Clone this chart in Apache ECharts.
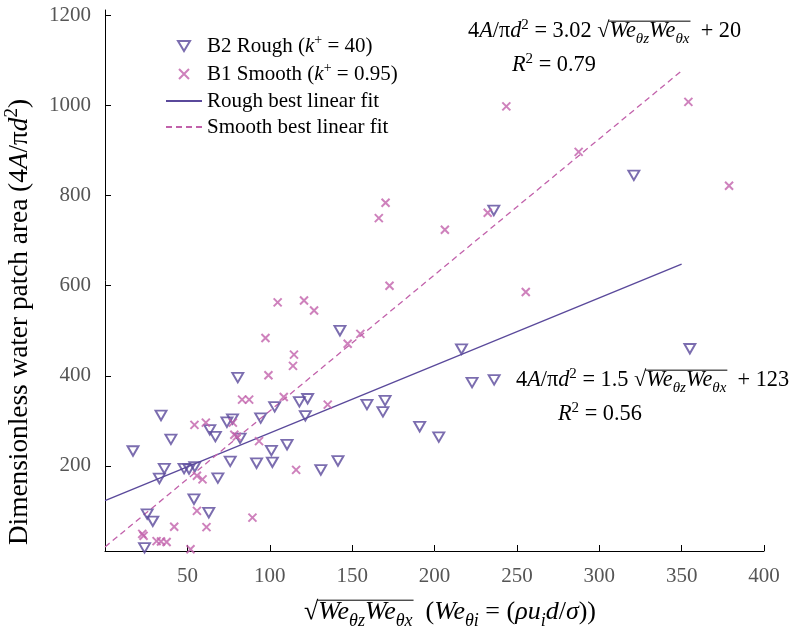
<!DOCTYPE html>
<html><head><meta charset="utf-8">
<script src="https://cdn.jsdelivr.net/npm/echarts@6/dist/echarts.min.js"></script>
<style>html,body{margin:0;padding:0;background:#fff}#c{width:790px;height:636px}</style>
</head><body><div id="c"></div>
<script>
// ---- data ----
const roughX = [17, 34, 40, 36, 33, 48, 51, 54.5, 54, 25.6, 29, 24, 63, 68.5, 63.6, 67, 80.6, 74, 77.4, 82, 76, 92, 101.6, 101, 110.5, 94.5, 103, 118, 123, 121.6, 131, 141.4, 142.6, 159, 170, 168.7, 191, 202.6, 216.4, 222.8, 236.2, 236, 355, 321];
const roughY = [233, 312, 259, 194, 172, 194, 193, 198, 126, 93, 77, 18, 96, 173, 280, 265, 396, 297, 304, 261, 210, 206, 208, 234, 247, 306, 331, 342, 349, 311, 191, 211, 500, 336, 345, 320, 287, 264, 459, 385, 391, 767, 460, 845];
const smoothX = [104.8, 120.8, 126.9, 97.4, 114.7, 114.1, 99.2, 108.5, 83.2, 87.5, 77.6, 78.5, 80, 93.5, 61.2, 54.3, 55.8, 59.2, 55.8, 61.6, 89.5, 42, 22.6, 23.4, 31.3, 34, 37.4, 51.9, 116, 172.7, 255.4, 147.3, 155, 135.2, 232.3, 206.3, 243.6, 354.1, 287.5, 378.8, 170.3, 166.2];
const smoothY = [563, 567, 545, 484, 447, 422, 401, 353, 347, 347, 296, 269, 265, 255, 296, 291, 178, 170, 100, 64, 85, 65, 49, 45, 33, 32, 31, 15, 191, 600, 586, 471, 493, 336, 762, 724, 998, 1008, 897, 822, 784, 750];
const fitX = [0, 350];
const roughFitY = [123, 648];
const smoothFitY = [20, 1077];
const xTicks = [50, 100, 150, 200, 250, 300, 350, 400];
const yTicks = [200, 400, 600, 800, 1000, 1200];
const seriesNames = ['B2 Rough', 'B1 Smooth', 'Rough best linear fit', 'Smooth best linear fit'];

const ROUGH = '#5a499b', SMOOTH = '#c262ab';
const FONT = '"Liberation Serif", "Times New Roman", serif';

const mctx = document.createElement('canvas').getContext('2d');
function mathGraphic(parts, x, baseline, size, align, color) {
  const els = [], items = [];
  let cx = 0, s0 = null, e0 = null;
  for (const p of parts) {
    if (p === 'S') { s0 = cx; continue; }
    if (p === 'E') { e0 = cx; continue; }
    const t = p[0], k = p[1];
    const italic = k.includes('i'), sub = k.includes('b'), sup = k.includes('p');
    const fs = (sub || sup) ? Math.round(size * 0.68) : size;
    mctx.font = (italic ? 'italic ' : '') + fs + 'px ' + FONT;
    const w = mctx.measureText(t).width;
    const bl = baseline + (sub ? size * 0.24 : sup ? -size * 0.4 : 0);
    items.push({ t, x: cx, bl, fs, italic });
    cx += w;
  }
  const x0 = align === 'center' ? x - cx / 2 : align === 'right' ? x - cx : x;
  items.forEach(it => els.push({
    type: 'text', x: x0 + it.x, y: it.bl - 0.34 * it.fs, silent: true,
    style: { text: it.t, fontSize: it.fs, fontFamily: FONT, fontStyle: it.italic ? 'italic' : 'normal',
      fill: color, textAlign: 'left', verticalAlign: 'middle', textVerticalAlign: 'middle' }
  }));
  if (s0 !== null && e0 !== null) {
    els.push({ type: 'line', silent: true,
      shape: { x1: x0 + s0 - 1, y1: baseline - 0.8 * size, x2: x0 + e0 + 1, y2: baseline - 0.8 * size },
      style: { stroke: color, lineWidth: 1 } });
  }
  return els;
}

const radicand = ['S', ['We', 'i'], ['θz', 'ib'], ['We', 'i'], ['θx', 'ib'], 'E'];
const eq1 = [['4', 'n'], ['A', 'i'], ['/π', 'n'], ['d', 'i'], ['2', 'p'], [' = 3.02 ', 'n'], ['√', 'n'], ...radicand, ['  + 20', 'n']];
const eq2 = [['4', 'n'], ['A', 'i'], ['/π', 'n'], ['d', 'i'], ['2', 'p'], [' = 1.5 ', 'n'], ['√', 'n'], ...radicand, ['  + 123', 'n']];
const r1 = [['R', 'i'], ['2', 'p'], [' = 0.79', 'n']];
const r2 = [['R', 'i'], ['2', 'p'], [' = 0.56', 'n']];
const xTitle = [['√', 'n'], ...radicand, ['  (', 'n'], ['We', 'i'], ['θi', 'ib'], [' = (', 'n'], ['ρu', 'i'], ['i', 'ib'], ['d', 'i'], ['/', 'n'], ['σ', 'i'], ['))', 'n']];
const yTitle = [['Dimensionless water patch area (4', 'n'], ['A', 'i'], ['/π', 'n'], ['d', 'i'], ['2', 'p'], [')', 'n']];

const graphics = [].concat(
  mathGraphic(eq1, 468, 39, 22.3, 'left', '#000'),
  mathGraphic(r1, 512, 73, 22.3, 'left', '#000'),
  mathGraphic(eq2, 516, 388, 22.3, 'left', '#000'),
  mathGraphic(r2, 558, 422, 22.3, 'left', '#000'),
  mathGraphic(xTitle, 450, 621, 26, 'center', '#000'),
  [{ type: 'group', x: 21, y: 322, rotation: Math.PI / 2,
     children: mathGraphic(yTitle, 0, 0.3 * 27.3, 27.3, 'center', '#000') }]
);

const legendText = {
  'B2 Rough': '{n|B2 Rough (}{i|k}{p|+}{n| = 40)}',
  'B1 Smooth': '{n|B1 Smooth (}{i|k}{p|+}{n| = 0.95)}',
  'Rough best linear fit': '{n|Rough best linear fit}',
  'Smooth best linear fit': '{n|Smooth best linear fit}'
};
const hiddenDot = { color: 'rgba(0,0,0,0)', borderWidth: 0, opacity: 0 };

const chart = echarts.init(document.getElementById('c'), null, { renderer: 'canvas' });
chart.setOption({
  animation: false,
  backgroundColor: '#fff',
  grid: { left: 105, right: 26, top: 10, bottom: 85 },
  legend: {
    orient: 'vertical', left: 160, top: 28, itemWidth: 36, itemHeight: 10, itemGap: 2,
    data: [
      { name: seriesNames[0] },
      { name: seriesNames[1] },
      { name: seriesNames[2], itemStyle: hiddenDot },
      { name: seriesNames[3], itemStyle: hiddenDot }
    ],
    formatter: n => legendText[n],
    textStyle: {
      fontFamily: FONT, fontSize: 21, color: '#000', lineHeight: 24,
      rich: {
        n: { fontFamily: FONT, fontSize: 21, color: '#000', lineHeight: 24 },
        i: { fontFamily: FONT, fontSize: 21, fontStyle: 'italic', color: '#000', lineHeight: 24 },
        p: { fontFamily: FONT, fontSize: 14, color: '#000', lineHeight: 24, padding: [0, 0, 12, 0] }
      }
    }
  },
  xAxis: {
    type: 'value', min: 0, max: 400,
    axisLine: { show: true, lineStyle: { color: '#000', width: 1 } },
    axisTick: { show: true, inside: true, length: 6, customValues: xTicks, lineStyle: { color: '#000' } },
    axisLabel: { customValues: xTicks, color: '#555', fontFamily: FONT, fontSize: 21, margin: 15, formatter: v => String(v) },
    splitLine: { show: false }
  },
  yAxis: {
    type: 'value', min: 11, max: 1212,
    axisLine: { show: true, lineStyle: { color: '#000', width: 1 } },
    axisTick: { show: true, inside: true, length: 6, customValues: yTicks, lineStyle: { color: '#000' } },
    axisLabel: { customValues: yTicks, color: '#555', fontFamily: FONT, fontSize: 21, margin: 14, formatter: v => String(v) },
    splitLine: { show: false }
  },
  series: [
    { name: seriesNames[0], type: 'scatter', z: 4,
      data: roughX.map((x, i) => [x, roughY[i]]),
      symbol: 'path://M0,0L12,0L6,10Z', symbolSize: [11, 9.5],
      itemStyle: { color: 'rgba(0,0,0,0)', borderColor: ROUGH, borderWidth: 1.9 } },
    { name: seriesNames[1], type: 'scatter', z: 4,
      data: smoothX.map((x, i) => [x, smoothY[i]]),
      symbol: 'path://M0,0L8,8M8,0L0,8', symbolSize: 8,
      itemStyle: { color: 'rgba(0,0,0,0)', borderColor: SMOOTH, borderWidth: 2 } },
    { name: seriesNames[2], type: 'line', z: 2, symbol: 'none',
      data: fitX.map((x, i) => [x, roughFitY[i]]),
      lineStyle: { color: ROUGH, width: 1.3 }, itemStyle: { color: ROUGH } },
    { name: seriesNames[3], type: 'line', z: 2, symbol: 'none',
      data: fitX.map((x, i) => [x, smoothFitY[i]]),
      lineStyle: { color: SMOOTH, width: 1.3, type: [6, 4] }, itemStyle: { color: SMOOTH } }
  ],
  graphic: graphics
});
</script></body></html>
